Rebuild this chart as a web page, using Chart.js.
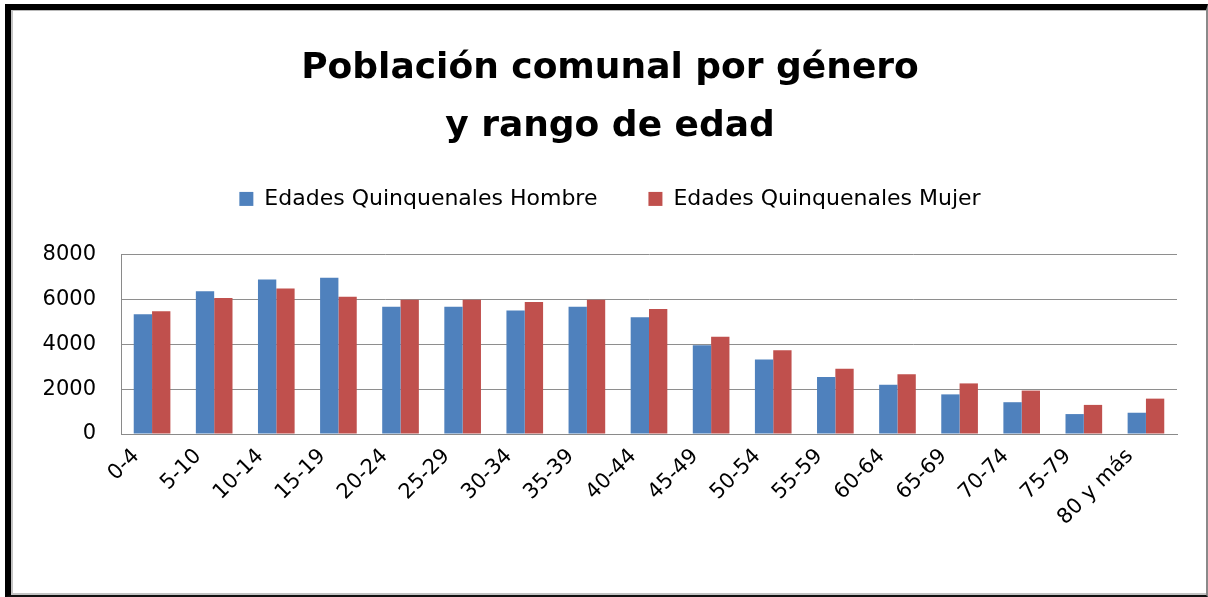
<!DOCTYPE html>
<html>
<head>
<meta charset="utf-8">
<script src="https://cdn.jsdelivr.net/npm/chart.js@4.4.1/dist/chart.umd.min.js"></script>
<style>
  html, body { margin: 0; padding: 0; background: #fff; }
  #wrap { position: relative; width: 1208px; height: 597px; overflow: hidden; }
  #chart { position: absolute; left: 0; top: 0; }
  .frame {
    position: absolute; left: 5px; top: 4px; width: 1203px; height: 593px;
    box-sizing: border-box; pointer-events: none;
    border-top: 6px solid #000; border-left: 6px solid #000;
    border-right: 2px solid #8a8a8a; border-bottom: 2px solid #111;
  }
  .frame .inner {
    position: absolute; left: 0; top: 0; right: 0; bottom: 0;
    border-top: 1px solid #b8b8b8; border-left: 2px solid #c4c4c4; border-bottom: 2px solid #c4c4c4;
  }
</style>
</head>
<body>
<div id="wrap">
  <canvas id="chart" width="1208" height="597"></canvas>
  <div class="frame"><div class="inner"></div></div>
</div>
<script>
const ageGroups = ['0-4', '5-10', '10-14', '15-19', '20-24', '25-29', '30-34', '35-39', '40-44',
  '45-49', '50-54', '55-59', '60-64', '65-69', '70-74', '75-79', '80 y más'];
const hombre = [5350, 6380, 6900, 6980, 5690, 5690, 5520, 5690, 5210, 3970, 3330, 2550, 2200, 1770, 1420, 890, 950];
const mujer = [5480, 6070, 6500, 6130, 6000, 6000, 5900, 6000, 5580, 4350, 3740, 2920, 2670, 2260, 1940, 1300, 1580];
const yTicks = [0, 2000, 4000, 6000, 8000];

Chart.defaults.font.family = "'DejaVu Sans', sans-serif";
Chart.defaults.color = '#000';

const ctx = document.getElementById('chart').getContext('2d');

new Chart(ctx, {
  type: 'bar',
  data: {
    labels: ageGroups,
    datasets: [
      { label: 'Edades Quinquenales Hombre', data: hombre, backgroundColor: '#4F81BD' },
      { label: 'Edades Quinquenales Mujer', data: mujer, backgroundColor: '#C0504D' }
    ]
  },
  options: {
    responsive: false,
    animation: false,
    devicePixelRatio: 1,
    layout: { padding: { left: 43, right: 31, top: 0, bottom: 15 } },
    datasets: { bar: { categoryPercentage: 0.59, barPercentage: 1.0 } },
    plugins: {
      tooltip: { enabled: false },
      title: {
        display: true,
        text: ['Población comunal por género', 'y rango de edad'],
        font: { size: 36, weight: 'bold', lineHeight: 1.61 },
        padding: { top: 40, bottom: -19 }
      },
      // empty spacer between legend and plot
      subtitle: {
        display: true,
        text: '',
        weight: 500,
        font: { size: 35, lineHeight: 1 },
        padding: 0
      },
      legend: {
        position: 'top',
        labels: { font: { size: 22 }, boxWidth: 14, boxHeight: 14, padding: 51, color: '#000' }
      }
    },
    scales: {
      x: {
        grid: { display: false, drawTicks: false },
        border: { display: true, color: '#8a8a8a', width: 1 },
        ticks: { font: { size: 21 }, minRotation: 45, maxRotation: 45, padding: 10, labelOffset: -16, autoSkip: false },
        afterFit: (s) => { s.height = 148; }
      },
      y: {
        min: 0,
        max: 8000,
        afterBuildTicks: (s) => { s.ticks = yTicks.map(v => ({ value: v })); },
        grid: { color: '#8e8e8e', drawTicks: false },
        border: { display: true, color: '#8a8a8a' },
        ticks: { font: { size: 21 }, padding: 25, callback: (v) => String(v) },
        afterFit: (s) => { s.width = 78; }
      }
    }
  }
});
</script>
</body>
</html>
